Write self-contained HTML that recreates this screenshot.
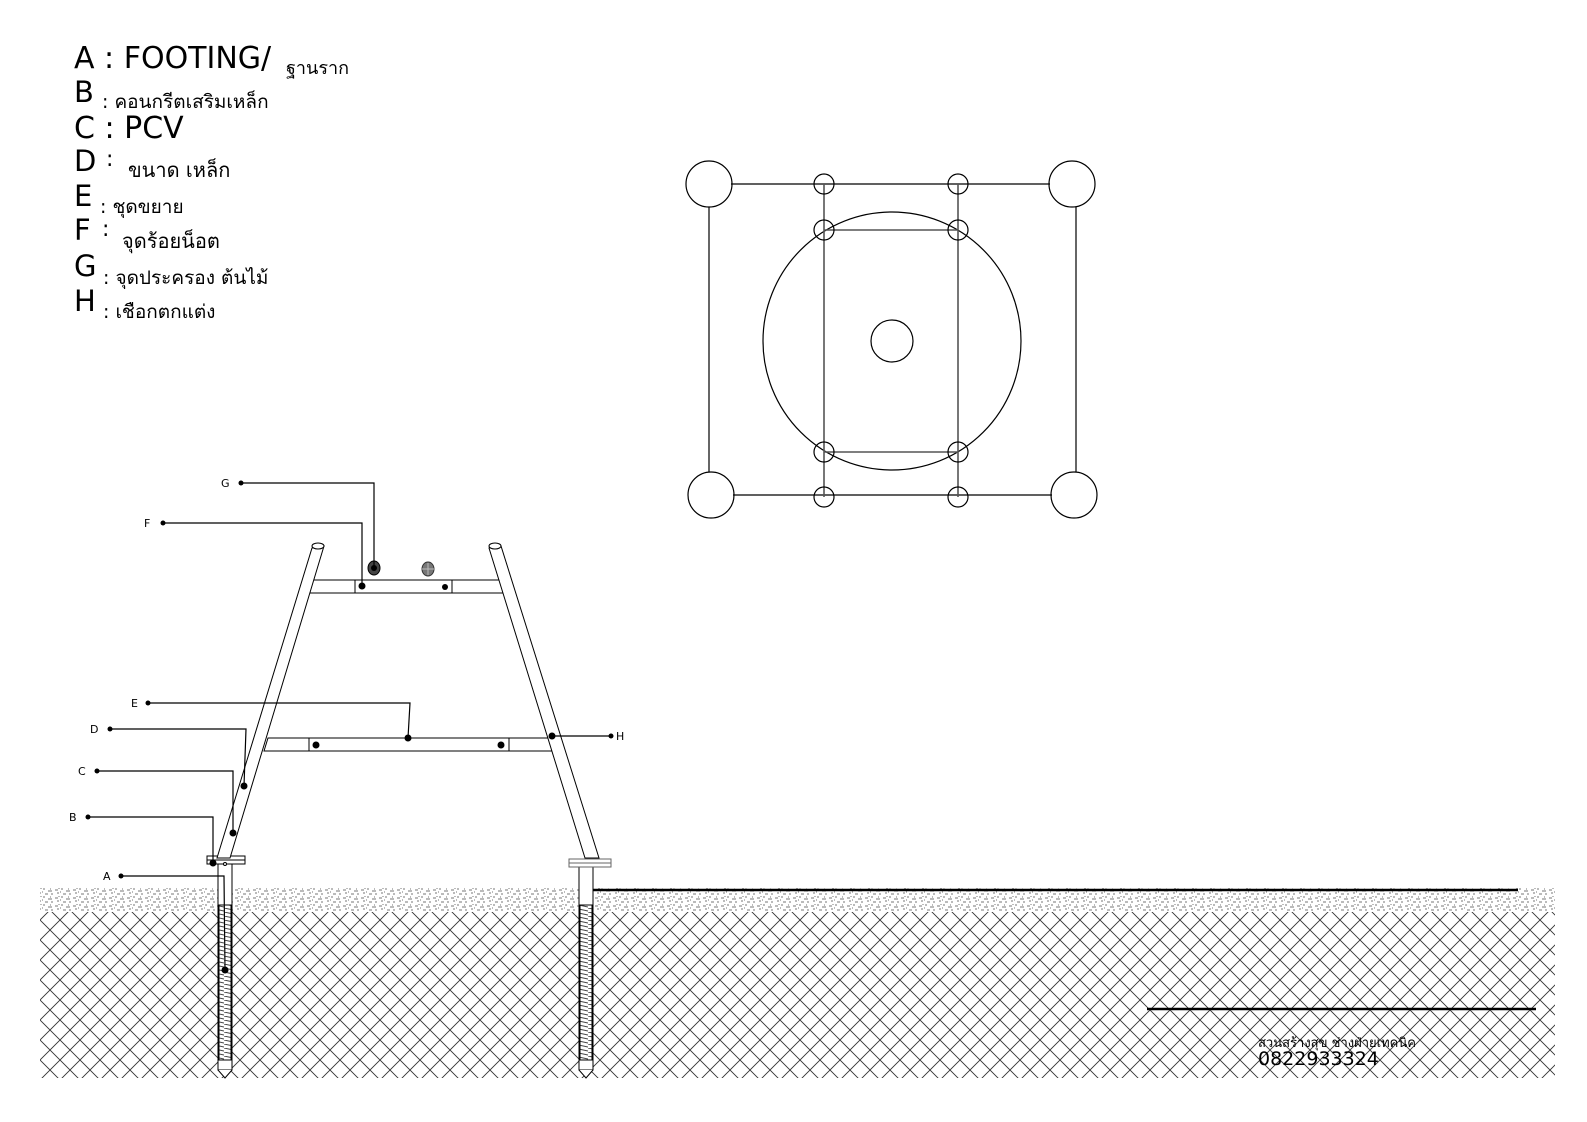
<!DOCTYPE html>
<html><head><meta charset="utf-8"><style>
html,body{margin:0;padding:0;background:#fff;}
svg{display:block;}
text{font-family:"DejaVu Sans","Liberation Sans",sans-serif;fill:#000;}
</style></head><body>
<svg width="1587" height="1122" viewBox="0 0 1587 1122" xmlns="http://www.w3.org/2000/svg">
<defs>
<pattern id="hatch" width="20" height="20" patternUnits="userSpaceOnUse">
<path d="M0 0L20 20M20 0L0 20" stroke="#333" stroke-width="0.9"/>
</pattern>
<pattern id="gravel" width="18" height="8" patternUnits="userSpaceOnUse">
<path d="M1 2h3M7 1h2M12 3h4M3 5h2M9 6h3M15 6h2M6 4h1M4 0h2M14 1h1" stroke="#777" stroke-width="1"/>
</pattern>
<pattern id="coil" width="14" height="4" patternUnits="userSpaceOnUse">
<path d="M0 0L14 3" stroke="#444" stroke-width="1"/>
</pattern>
</defs>

<!-- legend -->
<g>
<text x="74" y="68" font-size="30">A : FOOTING/</text><text x="286" y="74" font-size="18">ฐานราก</text>
<text x="74" y="102" font-size="29">B</text><text x="102" y="108" font-size="19">: คอนกรีตเสริมเหล็ก</text>
<text x="74" y="138" font-size="30">C : PCV</text>
<text x="74" y="171" font-size="29">D</text><text x="106" y="166" font-size="22">:</text><text x="128" y="177" font-size="20">ขนาด เหล็ก</text>
<text x="74" y="206" font-size="29">E</text><text x="100" y="213" font-size="19">:  ชุดขยาย</text>
<text x="74" y="240" font-size="29">F</text><text x="102" y="236" font-size="22">:</text><text x="122" y="248" font-size="20">จุดร้อยน็อต</text>
<text x="74" y="276" font-size="29">G</text><text x="103" y="284" font-size="19">: จุดประครอง ต้นไม้</text>
<text x="74" y="311" font-size="29">H</text><text x="103" y="318" font-size="19">: เชือกตกแต่ง</text>
</g>

<!-- plan view -->
<g fill="none" stroke="#000" stroke-width="1.2">
<line x1="731" y1="184" x2="1050" y2="184"/>
<line x1="733" y1="495" x2="1052" y2="495"/>
<line x1="709" y1="207" x2="709" y2="472"/>
<line x1="1076" y1="207" x2="1076" y2="472"/>
<circle cx="709" cy="184" r="23"/><circle cx="1072" cy="184" r="23"/>
<circle cx="711" cy="495" r="23"/><circle cx="1074" cy="495" r="23"/>
<circle cx="892" cy="341" r="129"/>
<circle cx="892" cy="341" r="21"/>
<g stroke="#555" stroke-width="1.6">
<line x1="824" y1="184" x2="824" y2="497"/>
<line x1="958" y1="184" x2="958" y2="497"/>
<line x1="824" y1="230" x2="958" y2="230"/>
<line x1="824" y1="452" x2="958" y2="452"/>
</g>
<circle cx="824" cy="184" r="10"/><circle cx="958" cy="184" r="10"/>
<circle cx="824" cy="230" r="10"/><circle cx="958" cy="230" r="10"/>
<circle cx="824" cy="452" r="10"/><circle cx="958" cy="452" r="10"/>
<circle cx="824" cy="497" r="10"/><circle cx="958" cy="497" r="10"/>
</g>

<!-- ground -->
<rect x="40" y="888" width="1515" height="24" fill="url(#gravel)"/>
<rect x="40" y="912" width="1515" height="166" fill="url(#hatch)"/>
<line x1="585" y1="890" x2="1518" y2="890" stroke="#000" stroke-width="2.5"/>
<line x1="1147" y1="1009" x2="1536" y2="1009" stroke="#000" stroke-width="2.5"/>
<text x="1258" y="1047" font-size="13">สวนสร้างสุข ช่างฝ่ายเทคนิค</text>
<text x="1258" y="1065" font-size="19">0822933324</text>

<!-- stakes -->
<g stroke="#000" stroke-width="1">
<rect x="218" y="864" width="14" height="206" fill="#fff"/>
<rect x="219" y="905" width="12" height="155" fill="url(#coil)"/>
<path d="M218 1070L225 1078L232 1070" fill="#fff"/>
<rect x="579" y="866" width="14" height="204" fill="#fff"/>
<rect x="580" y="905" width="12" height="155" fill="url(#coil)"/>
<path d="M579 1070L586 1078L593 1070" fill="#fff"/>
<rect x="207" y="856" width="38" height="8" fill="#fff"/>
<line x1="207" y1="860" x2="245" y2="860"/>
<rect x="569" y="859" width="42" height="8" fill="#fff" stroke="#666"/>
<line x1="569" y1="863" x2="611" y2="863" stroke="#666"/>
</g>

<!-- bars -->
<g fill="#fff" stroke="#000" stroke-width="1">
<polygon points="311,580 501,580 505,593 307,593"/>
<line x1="355" y1="580" x2="355" y2="593"/><line x1="452" y1="580" x2="452" y2="593"/>
<polygon points="268,738 557,738 561,751 264,751"/>
<line x1="309" y1="738" x2="309" y2="751"/><line x1="509" y1="738" x2="509" y2="751"/>
<polygon points="312,548 324,546 230,858 217,858"/>
<polygon points="489,548 501,546 599,858 585,858"/>
<ellipse cx="318" cy="546" rx="6" ry="3"/>
<ellipse cx="495" cy="546" rx="6" ry="3"/>
</g>

<ellipse cx="374" cy="568" rx="6" ry="7" fill="#444" stroke="#000"/>
<circle cx="374" cy="568" r="3" fill="#000"/>
<ellipse cx="428" cy="569" rx="6" ry="7" fill="#777" stroke="#333"/>
<line x1="428" y1="563" x2="428" y2="575" stroke="#bbb"/><line x1="422" y1="569" x2="434" y2="569" stroke="#bbb"/>

<!-- callouts -->
<g stroke="#000" stroke-width="1.2" fill="none">
<polyline points="241,483 374,483 374,566"/>
<polyline points="163,523 362,523 362,585"/>
<polyline points="148,703 410,703 408,738"/>
<polyline points="110,729 246,729 244,786"/>
<polyline points="97,771 233,771 233,833"/>
<polyline points="88,817 213,817 213,862"/>
<polyline points="121,876 224,876 225,970"/>
<line x1="552" y1="736" x2="611" y2="736"/>
</g>
<g fill="#000">
<circle cx="241" cy="483" r="2.5"/><circle cx="163" cy="523" r="2.5"/><circle cx="148" cy="703" r="2.5"/>
<circle cx="110" cy="729" r="2.5"/><circle cx="97" cy="771" r="2.5"/><circle cx="88" cy="817" r="2.5"/>
<circle cx="121" cy="876" r="2.5"/><circle cx="611" cy="736" r="2.5"/>
<circle cx="362" cy="586" r="3.5"/><circle cx="445" cy="587" r="3"/>
<circle cx="408" cy="738" r="3.5"/><circle cx="316" cy="745" r="3.5"/><circle cx="501" cy="745" r="3.5"/>
<circle cx="552" cy="736" r="3.5"/><circle cx="244" cy="786" r="3.5"/><circle cx="233" cy="833" r="3.5"/>
<circle cx="213" cy="863" r="3.5"/><circle cx="225" cy="864" r="1.5" fill="#fff" stroke="#000"/><circle cx="225" cy="970" r="3.5"/>
</g>
<g font-size="11">
<text x="221" y="487">G</text><text x="144" y="527">F</text><text x="131" y="707">E</text>
<text x="90" y="733">D</text><text x="78" y="775">C</text><text x="69" y="821">B</text>
<text x="103" y="880">A</text><text x="616" y="740">H</text>
</g>
</svg>
</body></html>
